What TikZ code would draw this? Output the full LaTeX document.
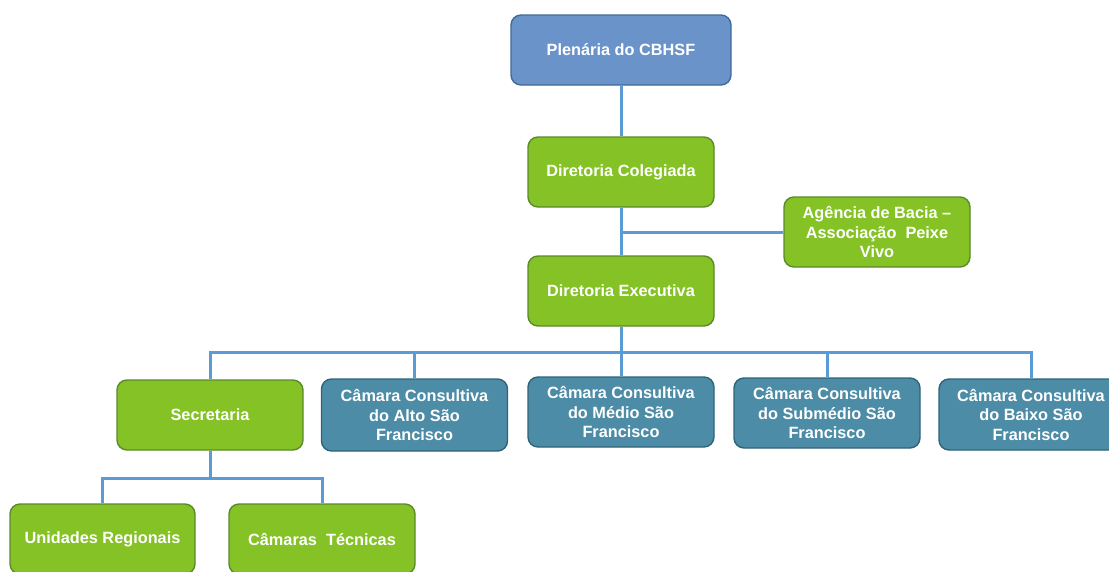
\documentclass[tikz,border=0pt]{standalone}
\usepackage{fontspec}
\setmainfont{Liberation Sans}
\definecolor{plenfill}{HTML}{6A93C9}
\definecolor{plenline}{HTML}{3F6A9C}
\definecolor{grfill}{HTML}{84C225}
\definecolor{grline}{HTML}{5A8A2A}
\definecolor{tlfill}{HTML}{4C8CA6}
\definecolor{tlline}{HTML}{2E6478}
\definecolor{conn}{HTML}{5B9BD5}
\tikzset{
  box/.style={rounded corners=10pt, line width=1.4pt, minimum width=186pt, minimum height=70pt,
    text=white, font=\fontsize{16.3}{19.5}\selectfont\bfseries, align=center, inner sep=2pt},
  topbox/.style={box, fill=plenfill, draw=plenline, minimum width=220pt},
  greenbox/.style={box, fill=grfill, draw=grline},
  tealbox/.style={box, fill=tlfill, draw=tlline},
  link/.style={draw=conn, line width=3pt}
}
\begin{document}
\begin{tikzpicture}[x=1pt,y=-1pt]
\useasboundingbox (0,0) rectangle (1109,571);
\clip (0,0) rectangle (1109,571);
\node[topbox] (plen) at (621,50) {Plenária do CBHSF};
\node[greenbox] (coleg) at (621,172) {Diretoria Colegiada};
\node[greenbox] (agen) at (877,232) {Agência de Bacia --\\Associação\ \ Peixe\\Vivo};
\node[greenbox] (exec) at (621,291) {Diretoria Executiva};
\node[greenbox] (sec) at (210,415) {Secretaria};
\node[tealbox, minimum height=72pt] (alto) at (414.5,415) {Câmara Consultiva\\do Alto São\\Francisco};
\node[tealbox] (medio) at (621,412) {Câmara Consultiva\\do Médio São\\Francisco};
\node[tealbox] (subm) at (827,413) {Câmara Consultiva\\do Submédio São\\Francisco};
\node[tealbox, minimum width=184pt, minimum height=71pt] (baixo) at (1031,414.5) {Câmara Consultiva\\do Baixo São\\Francisco};
\node[greenbox, minimum width=185pt] (unid) at (102.5,539) {Unidades Regionais};
\node[greenbox] (tec) at (322,539) {Câmaras\ \ Técnicas};
\coordinate (bus) at (621,352);
\coordinate (bus2) at (210,478);
\path[link] (plen) -- (coleg);
\path[link] (coleg) -- (exec);
\path[link] (coleg.south |- agen.west) -- (agen.west);
\path[link] (exec.south) -- (bus);
\path[link] (sec.north) |- (bus) -| (baixo.north);
\path[link] (alto.north) -- (alto.north |- bus);
\path[link] (medio.north) -- (bus);
\path[link] (subm.north) -- (subm.north |- bus);
\path[link] (sec.south) -- (bus2);
\path[link] (unid.north) |- (bus2) -| (tec.north);
\end{tikzpicture}
\end{document}
